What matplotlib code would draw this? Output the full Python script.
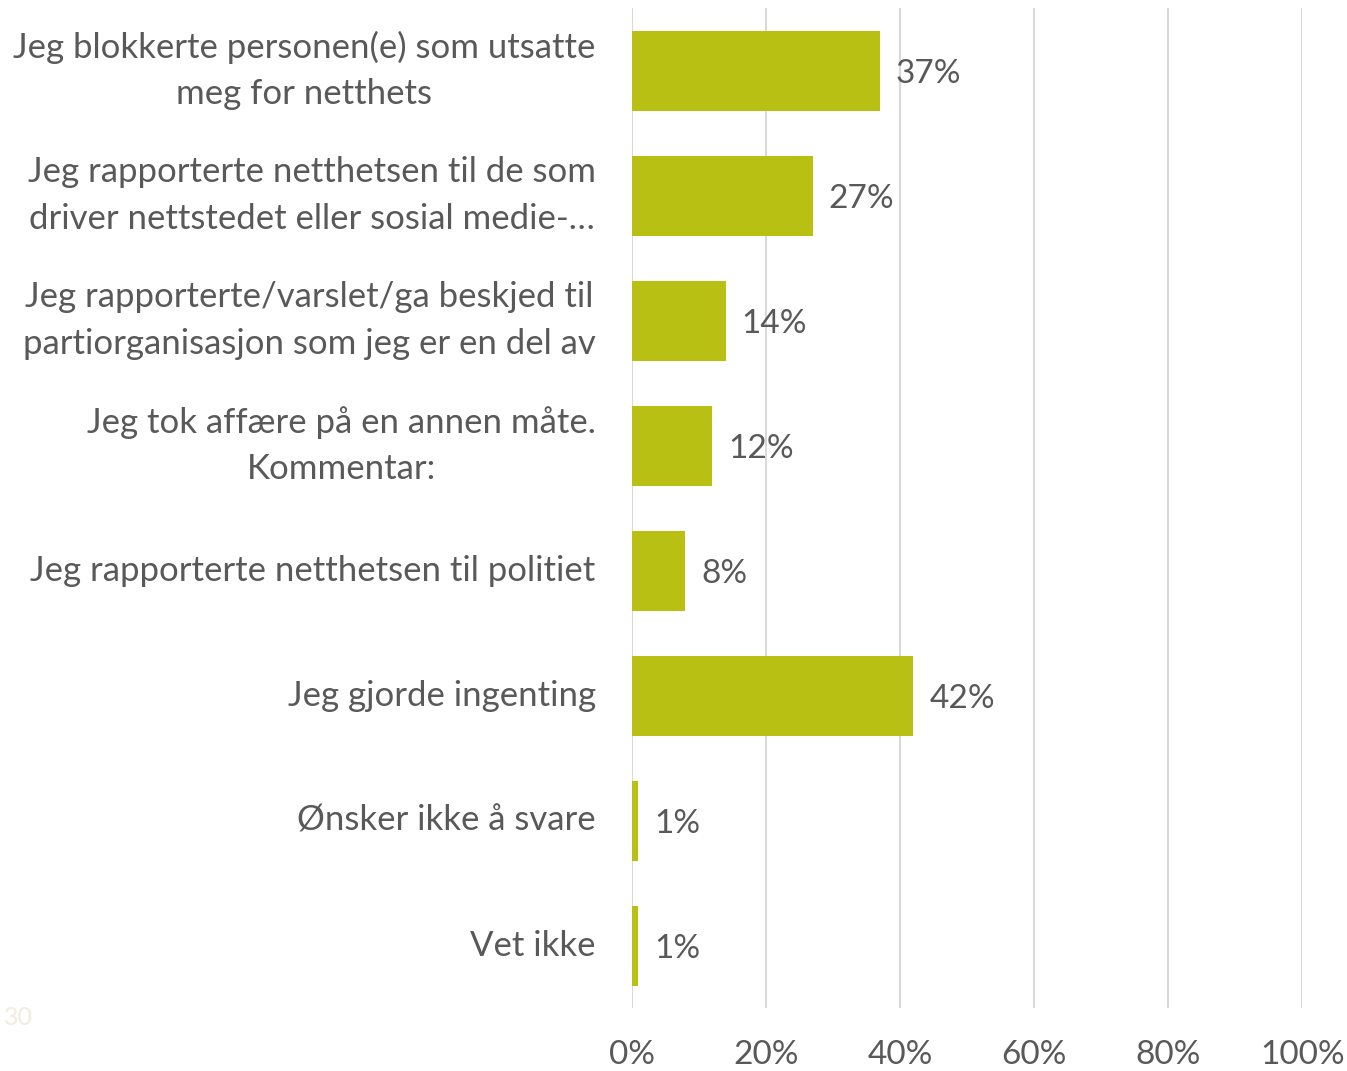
import matplotlib.pyplot as plt

# data
categories = [
    "Jeg blokkerte personen(e) som utsatte\nmeg for netthets",
    "Jeg rapporterte netthetsen til de som\ndriver nettstedet eller sosial medie-…",
    "Jeg rapporterte/varslet/ga beskjed til\npartiorganisasjon som jeg er en del av",
    "Jeg tok affære på en annen måte.\nKommentar:",
    "Jeg rapporterte netthetsen til politiet",
    "Jeg gjorde ingenting",
    "Ønsker ikke å svare",
    "Vet ikke",
]
values = [37, 27, 14, 12, 8, 42, 1, 1]
x_ticks = [0, 20, 40, 60, 80, 100]

bar_color = "#B8C014"
text_color = "#595959"
grid_color = "#D9D9D9"

plt.rcParams['font.family'] = ['Lato', 'DejaVu Sans']

fig = plt.figure(figsize=(13.47, 10.71), dpi=100)
ax = fig.add_axes([0.469, 0.0588, 0.4977, 0.9337])

y_pos = list(range(len(categories)))
ax.barh(y_pos, values, height=0.64, color=bar_color, zorder=3)

for y, v in zip(y_pos, values):
    ax.text(v + 2.4, y + 0.03, f"{v}%", va="center", ha="left",
            fontsize=24, color=text_color, zorder=4)

ax.set_xlim(0, 100)
ax.set_ylim(len(categories) - 0.5, -0.5)
ax.set_xticks(x_ticks)
ax.set_xticklabels([f"{t}%" for t in x_ticks], fontsize=24, color=text_color)
ax.set_yticks(y_pos)
ax.set_yticklabels(categories, fontsize=25, color=text_color, ha="right",
                   va="center", multialignment="center", linespacing=1.55)
ax.tick_params(axis="y", length=0, pad=26)
ax.tick_params(axis="x", length=0, pad=23)

ax.grid(axis="x", color=grid_color, linewidth=1.5, zorder=0)
for s in ax.spines.values():
    s.set_visible(False)

fig.text(0.003, 0.043, "30", fontsize=18, color="#EFECE0")

fig.savefig("out.png", dpi=100)
